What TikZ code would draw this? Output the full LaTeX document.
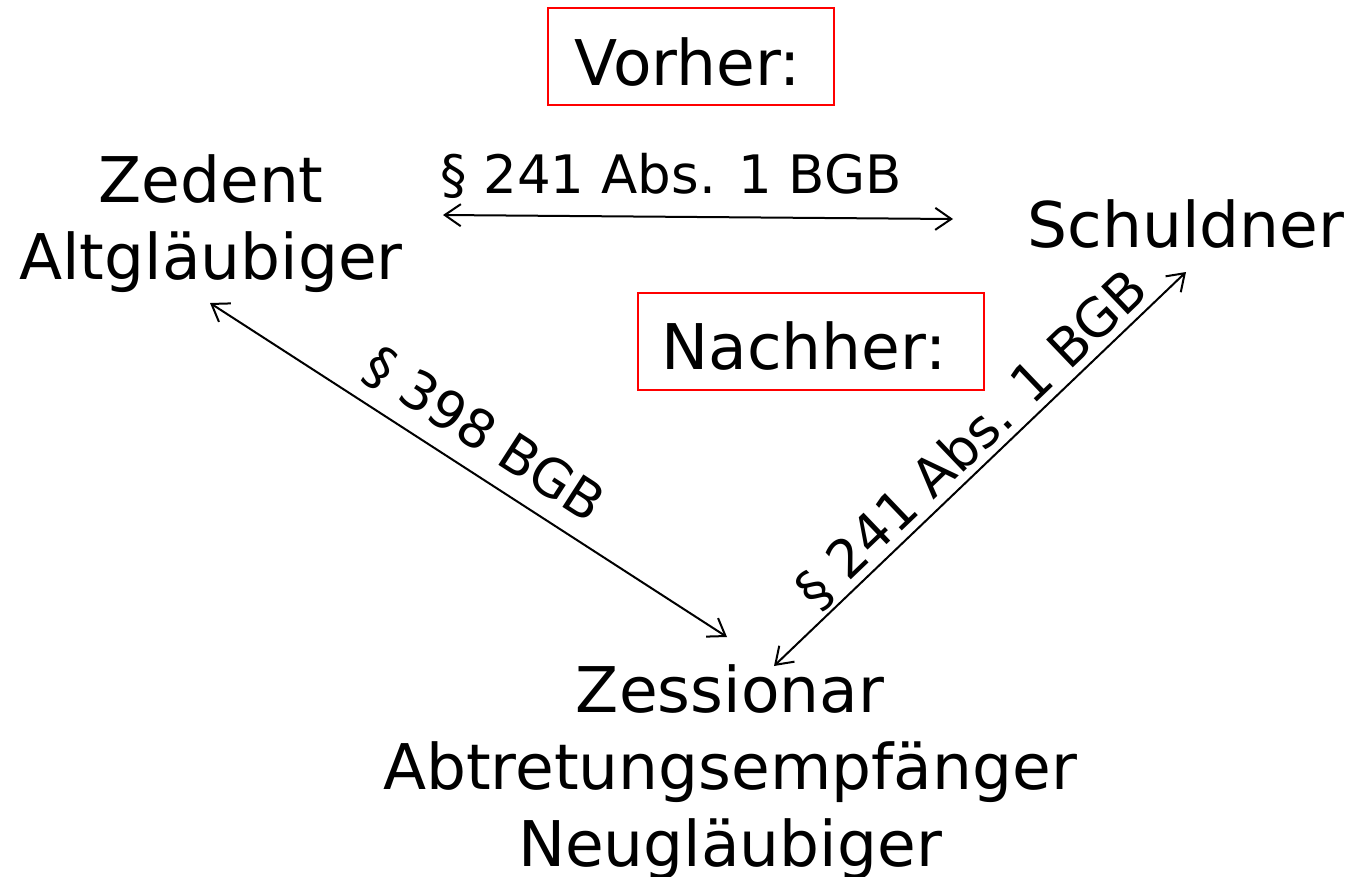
\documentclass[tikz,border=0pt]{standalone}
\usepackage{fontspec}
\setmainfont{DejaVu Sans}
\usetikzlibrary{arrows.meta}
\tikzset{
  big/.style={font=\fontsize{63}{77}\selectfont, inner sep=0pt, align=center},
  law/.style={font=\fontsize{53}{64}\selectfont, inner sep=0pt},
  phase/.style={draw=red, line width=2pt, font=\fontsize{63}{77}\selectfont,
    inner sep=0pt, text depth=0pt},
  rel/.style={line width=2pt, {Straight Barb[length=16pt,width=22pt,line width=2pt]}-{Straight Barb[length=16pt,width=22pt,line width=2pt]}},
}
\begin{document}
\begin{tikzpicture}[x=1pt,y=-1pt]
\useasboundingbox (0,0) rectangle (1354,876);

% phase boxes
\node[phase, minimum width=286pt, minimum height=97pt, text height=57pt] (vorher) at (691,56.5) {Vorher:\hspace*{6pt}};
\node[phase, minimum width=346pt, minimum height=97pt, text height=55pt] (nachher) at (811,341.5) {Nachher:\hspace*{14pt}};

% parties
\node[big, anchor=north] (zed) at (211,154) {Zedent\\Altgläubiger};
\node[big, anchor=base] (sch) at (1186,247) {Schuldner};
\node[big, anchor=north] (zes) at (730,664) {Zessionar\\Abtretungsempfänger\\Neugläubiger};

% arrow end points
\coordinate (hL) at (443,215);
\coordinate (hR) at (953,219);
\coordinate (lA) at (210,303);
\coordinate (lB) at (727,637);
\coordinate (rA) at (774,666);
\coordinate (rB) at (1186,272);

% claims
\node[law, anchor=base] (l0) at (671,193) {§ 241 Abs. 1 BGB};
\draw[rel] (hL) -- (hR);
\draw[rel] (lA) -- node[law, sloped, above, inner sep=14pt, pos=0.49] (l1) {§ 398 BGB} (lB);
\draw[rel] (rA) -- node[law, sloped, above, inner sep=3pt, pos=0.525] (l2) {§ 241 Abs. 1 BGB} (rB);
\end{tikzpicture}
\end{document}
